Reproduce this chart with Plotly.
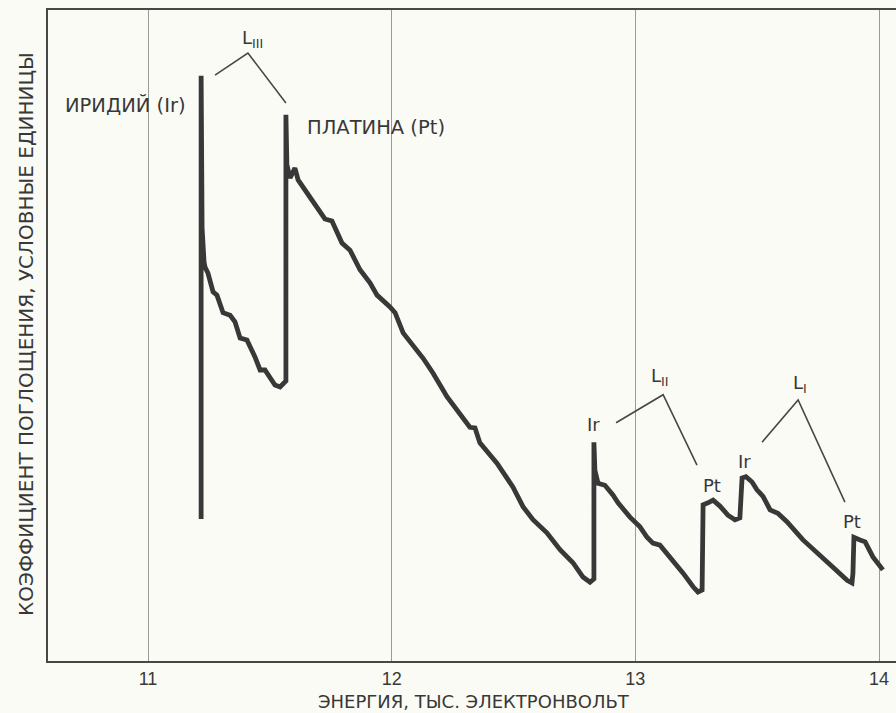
import plotly.graph_objects as go

# X-ray absorption spectrum of an iridium-platinum sample across the L edges
energy_kev = [
    11.218, 11.218, 11.222, 11.230, 11.234, 11.246, 11.267, 11.283, 11.308, 11.337,
    11.357, 11.378, 11.406, 11.439, 11.460, 11.480, 11.521, 11.542, 11.562, 11.566,
    11.566, 11.570, 11.583, 11.603, 11.616, 11.653, 11.694, 11.726, 11.755, 11.796,
    11.829, 11.870, 11.911, 11.940, 11.993, 12.014, 12.047, 12.129, 12.170, 12.227,
    12.321, 12.342, 12.362, 12.432, 12.498, 12.539, 12.580, 12.637, 12.691, 12.744,
    12.785, 12.814, 12.830, 12.830, 12.834, 12.847, 12.875, 12.908, 12.929, 12.978,
    13.019, 13.048, 13.072, 13.101, 13.155, 13.196, 13.237, 13.257, 13.274, 13.278,
    13.298, 13.319, 13.347, 13.380, 13.409, 13.429, 13.438, 13.454, 13.479, 13.499,
    13.524, 13.553, 13.585, 13.622, 13.688, 13.758, 13.811, 13.869, 13.889, 13.893,
    13.897, 13.922, 13.943, 13.975, 14.016,
]
absorption = [
    21.8, 89.9, 66.5, 61.3, 60.5, 59.6, 56.7, 56.2, 53.5, 53.1,
    52.1, 49.6, 49.3, 46.7, 44.7, 44.7, 42.4, 42.1, 43.0, 43.0,
    83.9, 76.2, 74.2, 75.7, 73.9, 71.9, 69.7, 67.9, 67.6, 64.2,
    63.1, 60.1, 58.1, 56.2, 54.4, 53.5, 50.4, 46.5, 44.2, 40.6,
    35.9, 35.8, 33.5, 30.4, 26.7, 23.7, 21.7, 19.7, 17.1, 15.1,
    12.9, 12.1, 12.6, 33.6, 29.3, 27.3, 27.0, 25.5, 24.3, 22.1,
    20.6, 19.0, 18.1, 17.8, 15.5, 13.5, 11.4, 10.6, 10.9, 24.0,
    24.3, 24.7, 23.8, 22.4, 21.7, 22.0, 28.1, 28.3, 27.5, 26.3,
    25.3, 23.2, 22.7, 21.4, 18.6, 16.3, 14.4, 12.4, 12.0, 13.5,
    19.0, 18.6, 18.3, 16.0, 14.0,
]

tick_values = [11, 12, 13, 14]
tick_labels = ["11", "12", "13", "14"]

ink = "#383838"
paper = "#fbfbf5"
label_font = "DejaVu Sans, sans-serif"
tick_font = "Arial, Liberation Sans, sans-serif"

# Plot-area geometry in pixels (used to place the axis titles)
W, H = 896, 713
ML, MR, MT, MB = 48, 0, 10, 52
plot_w = W - ML - MR
plot_h = H - MT - MB

fig = go.Figure()
fig.add_trace(go.Scatter(
    x=energy_kev, y=absorption, mode="lines",
    line=dict(color=ink, width=4.8),
    hoverinfo="skip", showlegend=False,
))

# Brackets grouping the Ir / Pt edges of each L subshell
brackets = [
    [(11.275, 90.0), (11.410, 93.4), (11.566, 85.7)],
    [(12.921, 36.6), (13.114, 40.9), (13.253, 30.1)],
    [(13.520, 33.6), (13.668, 40.1), (13.860, 24.4)],
]
for pts in brackets:
    fig.add_trace(go.Scatter(
        x=[p[0] for p in pts], y=[p[1] for p in pts], mode="lines",
        line=dict(color="#474747", width=1.6),
        hoverinfo="skip", showlegend=False,
    ))

labels = [
    (11.164, 85.4, "ИРИДИЙ (Ir)", "right", 19.5),
    (11.644, 82.0, "ПЛАТИНА (Pt)", "left", 19.5),
    (11.427, 95.6, "L<sub>III</sub>", "center", 18),
    (13.101, 43.6, "L<sub>II</sub>", "center", 18),
    (13.676, 42.6, "L<sub>I</sub>", "center", 18),
    (12.830, 36.4, "Ir", "center", 18),
    (13.315, 27.0, "Pt", "center", 18),
    (13.446, 30.6, "Ir", "center", 18),
    (13.889, 21.4, "Pt", "center", 18),
]
for x, y, text, anchor, size in labels:
    fig.add_annotation(
        x=x, y=y, xref="x", yref="y", text=text, showarrow=False,
        xanchor=anchor, yanchor="middle",
        font=dict(family=label_font, size=size, color=ink),
    )

# Axis titles
fig.add_annotation(
    x=(474 - ML) / plot_w, y=-(713 - (H - MB)) / plot_h,
    xref="paper", yref="paper",
    text="ЭНЕРГИЯ, ТЫС. ЭЛЕКТРОНВОЛЬТ", showarrow=False,
    xanchor="center", yanchor="bottom", borderpad=0,
    font=dict(family=label_font, size=18, color=ink),
)
fig.add_annotation(
    x=-(ML - 26) / plot_w, y=((H - MB) - 334) / plot_h,
    xref="paper", yref="paper", textangle=-90,
    text="КОЭФФИЦИЕНТ ПОГЛОЩЕНИЯ, УСЛОВНЫЕ ЕДИНИЦЫ", showarrow=False,
    xanchor="center", yanchor="middle",
    font=dict(family=label_font, size=20, color=ink),
)

fig.update_layout(
    width=W, height=H,
    margin=dict(l=ML, r=MR, t=MT, b=MB),
    paper_bgcolor=paper, plot_bgcolor=paper,
    xaxis=dict(
        range=[10.5896, 14.0697], tickvals=tick_values, ticktext=tick_labels,
        showgrid=True, gridcolor="#9a9a9a", gridwidth=1,
        showline=True, linecolor="#474747", linewidth=2, mirror=True,
        ticks="", zeroline=False, ticklabelstandoff=0,
        tickfont=dict(family=tick_font, size=18, color=ink),
    ),
    yaxis=dict(
        range=[0, 100], showticklabels=False, showgrid=False, ticks="",
        showline=True, linecolor="#474747", linewidth=2, mirror=False,
        zeroline=False,
    ),
)

fig.write_html("out.html")
